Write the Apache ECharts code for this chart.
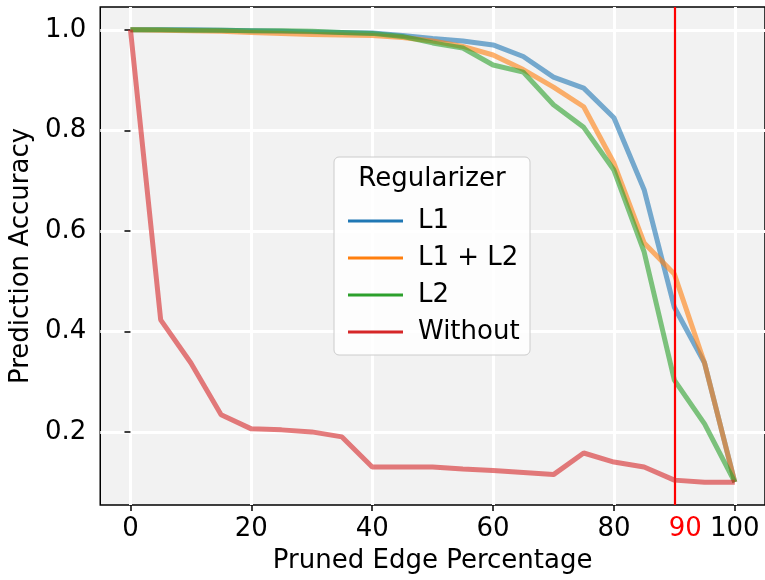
<!DOCTYPE html>
<html>
<head>
<meta charset="utf-8">
<script src="https://cdn.jsdelivr.net/npm/echarts@6/dist/echarts.min.js"></script>
<style>html,body{margin:0;padding:0;background:#fff}#c{width:765px;height:580px}</style>
</head>
<body>
<div id="c"></div>
<script>
const pruned = [0,5,10,15,20,25,30,35,40,45,50,55,60,65,70,75,80,85,90,95,100];
const l1 =    [1.0,1.0,1.0,0.999,0.998,0.997,0.996,0.995,0.994,0.989,0.983,0.978,0.970,0.947,0.906,0.884,0.825,0.682,0.448,0.337,0.1];
const l1l2 =  [1.0,0.999,0.998,0.997,0.995,0.993,0.991,0.990,0.989,0.985,0.978,0.967,0.950,0.921,0.886,0.847,0.735,0.576,0.514,0.337,0.1];
const l2 =    [1.0,1.0,0.999,0.999,0.998,0.998,0.997,0.995,0.993,0.987,0.974,0.964,0.930,0.916,0.851,0.806,0.721,0.558,0.303,0.216,0.1];
const without=[1.0,0.423,0.337,0.234,0.206,0.204,0.200,0.190,0.130,0.130,0.130,0.126,0.123,0.119,0.115,0.158,0.140,0.130,0.104,0.100,0.100];
const seriesNames = ['L1','L1 + L2','L2','Without'];
const xTicks = [0,20,40,60,80,100];
const xLabels = [0,20,40,60,80,90,100];
const yTicks = [0.2,0.4,0.6,0.8,1.0];
const cutoff = 90;

const colors = ['#1f77b4','#ff7f0e','#2ca02c','#d62728'];
const font = 'DejaVu Sans';
const fs = 26;
const chart = echarts.init(document.getElementById('c'), null, {renderer:'canvas'});
const datasets = [l1, l1l2, l2, without];
const series = datasets.map((d,i)=>({
  name: seriesNames[i],
  type: 'line',
  data: pruned.map((x,j)=>[x,d[j]]),
  showSymbol: false,
  symbol: 'none',
  color: colors[i],
  lineStyle: {width: 5, opacity: 0.6, color: colors[i]},
  itemStyle: {color: colors[i]},
  z: 2 + i,
  animation: false
}));
series[3].markLine = {
  silent: true, symbol: 'none', animation: false,
  label: {show: false},
  lineStyle: {color: '#ff0000', width: 2.2, type: 'solid', opacity: 1},
  data: [{xAxis: cutoff}]
};
chart.setOption({
  animation: false,
  grid: {left: 98, top: 7, width: 668, height: 498, show: true, backgroundColor: '#f2f2f2', borderColor: '#000', borderWidth: 1.5},
  xAxis: {
    type: 'value', min: -5, max: 105,
    name: 'Pruned Edge Percentage', nameLocation: 'middle', nameGap: 43,
    nameTextStyle: {fontFamily: font, fontSize: fs, color: '#000'},
    axisLine: {show: false},
    axisTick: {show: true, length: 6, customValues: xTicks, lineStyle: {color: '#000', width: 1.5}},
    axisLabel: {
      customValues: xLabels, margin: 11, fontFamily: font, fontSize: fs, color: '#000',
      formatter: v => v === cutoff ? '{r|' + v + '}' : String(v),
      rich: {r: {color: '#ff0000', fontFamily: font, fontSize: fs, padding: [0,0,0,22]}}
    },
    splitLine: {show: true, lineStyle: {color: '#fff', width: 3}}
  },
  yAxis: {
    type: 'value', min: 0.0545, max: 1.0455,
    name: 'Prediction Accuracy', nameLocation: 'middle', nameGap: 62,
    nameTextStyle: {fontFamily: font, fontSize: fs, color: '#000'},
    axisLine: {show: false},
    axisTick: {show: true, length: 6, customValues: yTicks, lineStyle: {color: '#000', width: 1.5}},
    axisLabel: {customValues: yTicks, margin: 14, fontFamily: font, fontSize: fs, color: '#000', formatter: v => v.toFixed(1)},
    splitLine: {show: true, lineStyle: {color: '#fff', width: 3}}
  },
  legend: {
    orient: 'vertical', left: 343, top: 203, itemGap: 11,
    icon: 'rect', itemWidth: 55, itemHeight: 3,
    data: seriesNames,
    textStyle: {fontFamily: font, fontSize: fs, color: '#000', padding: [0,0,0,10]},
    itemStyle: {opacity: 1}
  },
  graphic: [
    {type: 'rect', shape: {x: 334, y: 157, width: 196, height: 198, r: 5}, z: 3,
     style: {fill: 'rgba(255,255,255,0.8)', stroke: '#cccccc', lineWidth: 1}},
    {type: 'text', x: 432, y: 179, z: 4,
     style: {text: 'Regularizer', font: fs + 'px "DejaVu Sans"', fill: '#000', textAlign: 'center', textVerticalAlign: 'middle'}}
  ],
  series: series
});
</script>
</body>
</html>
